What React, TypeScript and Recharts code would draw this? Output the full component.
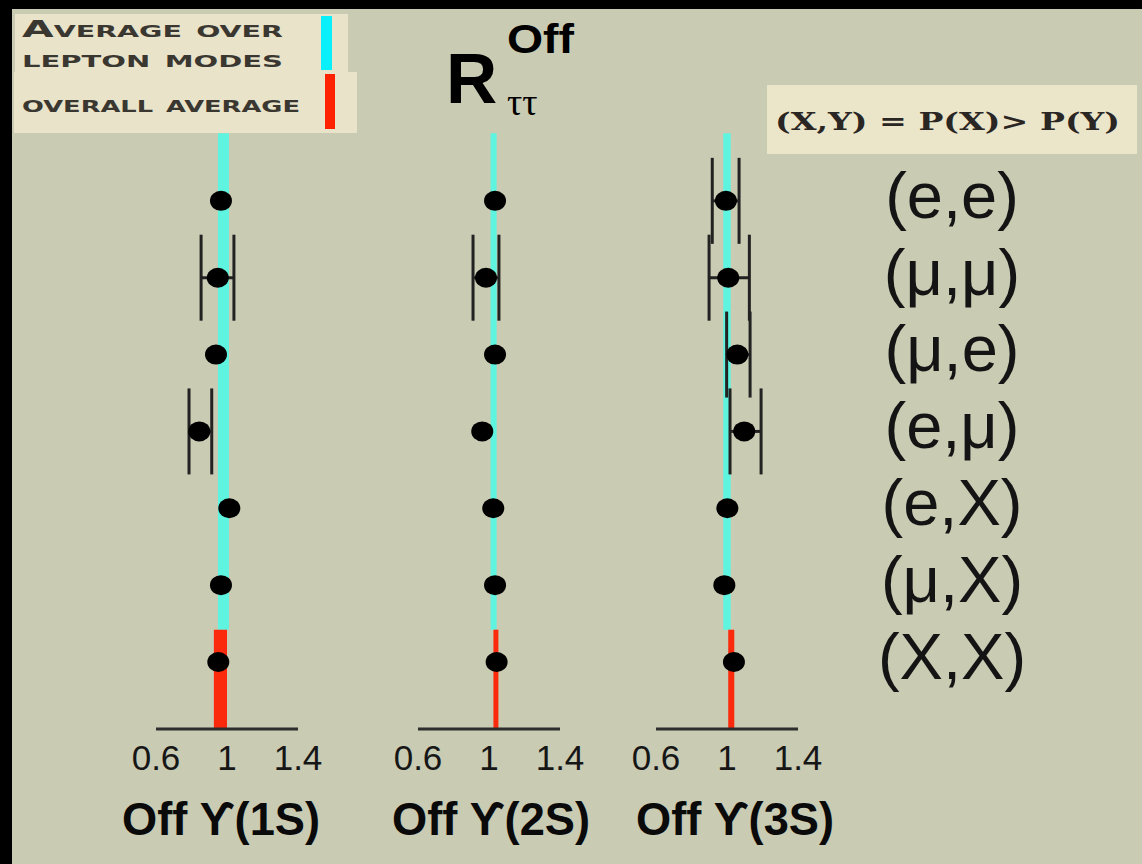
import React from 'react';
import { ScatterChart, Scatter, XAxis, YAxis, ErrorBar, ReferenceArea } from 'recharts';

// ── data ─────────────────────────────────────────────────────────────────────

const rowLabels = ['(e,e)', '(μ,μ)', '(μ,e)', '(e,μ)', '(e,X)', '(μ,X)', '(X,X)'];
const rowIndex = [1, 2, 3, 4, 5, 6, 7];
const panelNames = ['Off ϒ(1S)', 'Off ϒ(2S)', 'Off ϒ(3S)'];
const xTicks = [0.6, 1, 1.4];

// R_tautau per mode, one array per resonance
const r1S = [0.966, 0.948, 0.938, 0.844, 1.013, 0.966, 0.951];
const r2S = [1.034, 0.983, 1.034, 0.962, 1.024, 1.034, 1.043];
const r3S = [0.994, 1.007, 1.058, 1.097, 1.002, 0.985, 1.039];

// error bar ends (null = smaller than the marker, not drawn)
const lo1S = [null, 0.854, null, 0.786, null, null, null];
const hi1S = [null, 1.039, null, 0.914, null, null, null];
const lo2S = [null, 0.910, null, null, null, null, null];
const hi2S = [null, 1.056, null, null, null, null, null];
const lo3S = [0.917, 0.899, 0.998, 1.017, null, null, null];
const hi3S = [1.068, 1.126, 1.130, 1.192, null, null, null];

// averages (1S, 2S, 3S)
const lepAvg = [0.980, 1.026, 1.000];
const lepErr = [0.031, 0.017, 0.021];
const allAvg = [0.963, 1.039, 1.024];
const allErr = [0.037, 0.014, 0.017];

// ── layout ───────────────────────────────────────────────────────────────────

const BG = '#c9cbb3';
const CYAN = '#5ef4e0';
const RED = '#fb2a0c';
const SANS = '"Liberation Sans", Arial, sans-serif';
const SERIF = '"DejaVu Serif", serif';

const PLOT_TOP = 124;
const PLOT_W = 142;
const PLOT_H = 605;
const X_AXIS_H = 50;
const MARGIN_X = 40;
const ROW_AXIS_W = 260;
const Y_MAX = 7.872;
const CYAN_TOP = 0.12;
const SPLIT = 6.58;
const panelLeft = [156, 418, 656];
const nameCenter = [221, 491, 735];

const Dot = (props: any) => (
  <ellipse cx={props.cx} cy={props.cy} rx={11} ry={10} fill="#000" />
);

const RowTick = (props: any) => {
  const { x, y, payload } = props;
  return (
    <text x={x + 146} y={y} dy="0.26em" textAnchor="middle" fontSize={65}
      fontFamily={SANS} fill="#141414">
      {rowLabels[rowIndex.indexOf(payload.value)]}
    </text>
  );
};

interface PanelProps {
  idx: number;
  values: number[];
  lo: (number | null)[];
  hi: (number | null)[];
  withRows?: boolean;
}

function Panel({ idx, values, lo, hi, withRows }: PanelProps) {
  const data = values.map((v, i) => ({
    x: v,
    y: rowIndex[i],
    err: lo[i] == null ? undefined : [v - (lo[i] as number), (hi[i] as number) - v],
  }));
  const width = MARGIN_X + PLOT_W + (withRows ? ROW_AXIS_W : MARGIN_X);

  return (
    <div style={{ position: 'absolute', left: panelLeft[idx] - MARGIN_X, top: PLOT_TOP }}>
      <ScatterChart
        width={width}
        height={PLOT_H + X_AXIS_H}
        margin={{ top: 0, right: withRows ? 0 : MARGIN_X, bottom: 0, left: MARGIN_X }}
      >
        <XAxis
          type="number"
          dataKey="x"
          domain={[0.6, 1.4]}
          ticks={xTicks}
          interval={0}
          allowDataOverflow
          height={X_AXIS_H}
          tickLine={false}
          tickMargin={10}
          axisLine={{ stroke: '#2e2e2e', strokeWidth: 3 }}
          tick={{ fontSize: 35, fill: '#161616', fontFamily: SANS }}
          tickFormatter={(v) => String(v)}
        />
        <YAxis
          type="number"
          dataKey="y"
          domain={[0, Y_MAX]}
          reversed
          hide={!withRows}
          orientation="right"
          width={ROW_AXIS_W}
          ticks={rowIndex}
          interval={0}
          axisLine={false}
          tickLine={false}
          tick={<RowTick />}
        />
        <ReferenceArea
          x1={lepAvg[idx] - lepErr[idx]} x2={lepAvg[idx] + lepErr[idx]}
          y1={CYAN_TOP} y2={SPLIT}
          fill={CYAN} fillOpacity={1} stroke="none"
        />
        <ReferenceArea
          x1={allAvg[idx] - allErr[idx]} x2={allAvg[idx] + allErr[idx]}
          y1={SPLIT} y2={Y_MAX}
          fill={RED} fillOpacity={1} stroke="none"
        />
        <Scatter data={data} shape={Dot} isAnimationActive={false}>
          <ErrorBar dataKey="err" direction="x" width={43} stroke="#222"
            strokeWidth={3} isAnimationActive={false} />
        </Scatter>
      </ScatterChart>
    </div>
  );
}

export default function App() {
  return (
    <div style={{ position: 'absolute', left: 0, top: 0, width: 1142, height: 864, background: BG, overflow: 'hidden' }}>
      <Panel idx={0} values={r1S} lo={lo1S} hi={hi1S} />
      <Panel idx={1} values={r2S} lo={lo2S} hi={hi2S} />
      <Panel idx={2} values={r3S} lo={lo3S} hi={hi3S} withRows />

      <svg width={1142} height={864} style={{ position: 'absolute', left: 0, top: 0, pointerEvents: 'none' }}>
        {/* frame */}
        <rect x={0} y={0} width={1142} height={9} fill="#000" />
        <rect x={0} y={0} width={12} height={864} fill="#000" />

        {/* legend */}
        <rect x={15} y={14} width={333} height={58} fill="#e9e3c9" />
        <rect x={14} y={72} width={343} height={61} fill="#e9e3c9" />
        <g fontFamily='"DejaVu Sans", sans-serif' fontWeight="bold" fill="#3a3731" fontSize={23}
          style={{ fontVariant: 'small-caps' }}>
          <text x={22} y={37} textLength={261} lengthAdjust="spacingAndGlyphs">Average over</text>
          <text x={22} y={67} textLength={261} lengthAdjust="spacingAndGlyphs">lepton modes</text>
          <text x={22} y={112} textLength={278} lengthAdjust="spacingAndGlyphs">overall average</text>
        </g>
        <rect x={321} y={16} width={11} height={54} fill="#0af0fa" />
        <rect x={325} y={74} width={10} height={55} fill="#ff2200" />

        {/* title */}
        <text x={446} y={103} fontFamily={SANS} fontWeight="bold" fontSize={71} fill="#000">R</text>
        <text x={507} y={53} fontFamily={SANS} fontWeight="bold" fontSize={40} fill="#000"
          textLength={67} lengthAdjust="spacingAndGlyphs">Off</text>
        <text x={507} y={115} fontFamily='"Liberation Serif", serif' fontSize={38} fill="#000">ττ</text>

        {/* ordering note */}
        <rect x={767} y={85} width={370} height={69} fill="#ebe5c9" />
        <text x={775} y={130} fontFamily={SERIF} fontWeight="bold" fontSize={25} fill="#2a2623"
          textLength={345} lengthAdjust="spacingAndGlyphs">(X,Y) = P(X)&gt; P(Y)</text>

        {/* panel names */}
        {panelNames.map((n, i) => (
          <text key={n} x={nameCenter[i]} y={835} textAnchor="middle" fontFamily={SANS}
            fontWeight="bold" fontSize={47} fill="#0a0a0a"
            textLength={198} lengthAdjust="spacingAndGlyphs">{n}</text>
        ))}
      </svg>
    </div>
  );
}
